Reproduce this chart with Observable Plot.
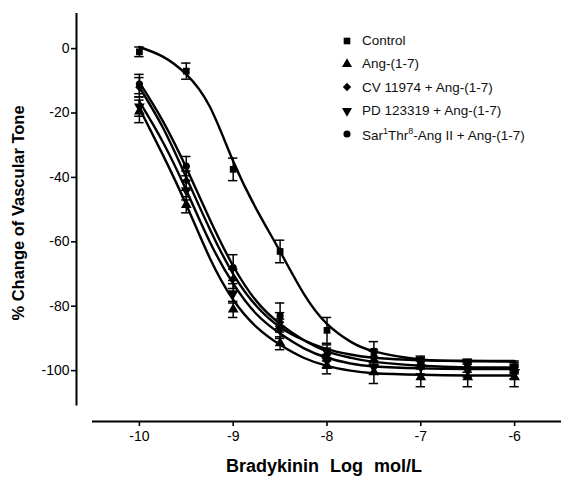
<!DOCTYPE html>
<html>
<head>
<meta charset="utf-8">
<script src="https://cdn.jsdelivr.net/npm/d3@7"></script>
<script src="https://cdn.jsdelivr.net/npm/@observablehq/plot@0.6"></script>
<style>
  html, body { margin: 0; padding: 0; background: #fff; }
  #wrap { position: relative; width: 561px; height: 478px; font-family: "Liberation Sans", Arial, Helvetica, sans-serif; }
  #legend { position: absolute; left: 340px; top: 29px; font-size: 13.5px; color: #111; }
  #legend .row { display: flex; align-items: center; height: 23.3px; }
  #legend svg { width: 14px; height: 14px; margin-right: 8px; }
</style>
</head>
<body>
<div id="wrap"></div>
<script>
// ---- data ----
const seriesNames = ["Control", "Ang-(1-7)", "CV 11974 + Ang-(1-7)", "PD 123319 + Ang-(1-7)", "Sar1Thr8-Ang II + Ang-(1-7)"];
const doses = [-10, -9.5, -9, -8.5, -8, -7.5, -7, -6.5, -6];
const controlMean = [-1, -7, -37.5, -63, -87.5, -94, -97, -98, -99];
const controlSem  = [1.5, 2.5, 3.5, 3.5, 4, 3, 1.5, 1.5, 1.5];
const angMean = [-19.5, -48.5, -81, -91.5, -98.5, -100.5, -102, -102, -102];
const angSem  = [3.5, 2.5, 2.5, 2, 2.5, 3.5, 3, 3, 3];
const cvMean = [-12, -41, -71.5, -85, -94, -95.5, -97.5, -98, -98.5];
const cvSem  = [3, 3, 3, 3, 2, 2, 1.5, 1.5, 1.5];
const pdMean = [-18, -44, -76, -87, -97, -99, -99, -100, -100.5];
const pdSem  = [3, 3, 3, 3, 2, 2, 2, 2, 2];
const sarMean = [-11, -36.5, -68, -83, -95, -96, -98, -99, -99.5];
const sarSem  = [3, 3, 4, 4, 2, 2, 1.5, 1.5, 1.5];

// fitted curves
const curveX = [-10, -9.75, -9.5, -9.25, -9, -8.75, -8.5, -8.25, -8, -7.75, -7.5, -7, -6.5, -6];
const controlCurve = [0.5, -2.5, -8, -18, -35, -50, -63, -76, -85.5, -91, -94, -96.5, -97, -97.2];
const angCurve = [-18.5, -33, -48.5, -65, -78, -86.5, -92, -96, -98.5, -100, -100.8, -101.3, -101.5, -101.5];
const pdCurve = [-16.5, -29, -44, -60, -73, -82.5, -88.5, -93, -96, -97.8, -98.7, -99.3, -99.5, -99.5];
const cvCurve = [-12, -24.5, -40, -56, -70, -80, -86.5, -90.5, -93.3, -95, -96, -96.8, -97, -97];
const sarCurve = [-10.5, -22.5, -37, -53, -67.5, -78.5, -85.5, -90.5, -94, -96, -97.3, -98.5, -99, -99];

const xTicks = [-10, -9, -8, -7, -6];
const yTicks = [0, -20, -40, -60, -80, -100];

// ---- build tables ----
const means = [controlMean, angMean, cvMean, pdMean, sarMean];
const sems = [controlSem, angSem, cvSem, pdSem, sarSem];
const curves = [controlCurve, angCurve, cvCurve, pdCurve, sarCurve];
const symbols = ["square", "triangle", "diamond2", "triangle", "circle"];
const rotations = [0, 0, 0, 180, 0];
const sizes = [3.8, 4, 3.8, 4, 3.6];

const points = [];
means.forEach((m, s) => m.forEach((v, i) => points.push({s, x: doses[i], y: v, sem: sems[s][i]})));
const lines = [];
curves.forEach((c, s) => c.forEach((v, i) => lines.push({s, x: curveX[i], y: v})));

const xDom = [-10.5, -5.5];
const yDom = [-115.8, 10.9];
const capHalf = 0.05;

const marks = [
  // axis lines
  Plot.ruleY([yDom[0]], {x1: xDom[0], x2: xDom[1], stroke: "#000", strokeWidth: 2}),
  Plot.ruleX([xDom[0]], {y1: 10.9, y2: -111, dx: -16, stroke: "#000", strokeWidth: 2}),
  Plot.axisX({ticks: xTicks, tickSize: 5, tickFormat: d => String(d), fontSize: 14, tickPadding: 5, strokeWidth: 1.6, label: null}),
  Plot.axisY({ticks: yTicks, tickSize: 5, tickFormat: d => String(d), fontSize: 14, tickPadding: 2, dx: -16, strokeWidth: 1.6, label: null}),
  // fitted curves
  Plot.line(lines, {x: "x", y: "y", z: "s", curve: "natural", stroke: "#000", strokeWidth: 2.4}),
  // error bars
  Plot.ruleX(points, {x: "x", y1: d => d.y - d.sem, y2: d => d.y + d.sem, stroke: "#000", strokeWidth: 1.5}),
  Plot.ruleY(points, {y: d => d.y - d.sem, x1: d => d.x - capHalf, x2: d => d.x + capHalf, stroke: "#000", strokeWidth: 1.5}),
  Plot.ruleY(points, {y: d => d.y + d.sem, x1: d => d.x - capHalf, x2: d => d.x + capHalf, stroke: "#000", strokeWidth: 1.5}),
];
symbols.forEach((sym, s) => {
  marks.push(Plot.dot(points.filter(d => d.s === s), {x: "x", y: "y", symbol: sym, r: sizes[s], rotate: rotations[s], fill: "#000", stroke: "none"}));
});

const chart = Plot.plot({
  width: 561,
  height: 478,
  marginLeft: 92,
  marginRight: 0,
  marginTop: 13,
  marginBottom: 57,
  style: {fontFamily: '"Liberation Sans", Arial, Helvetica, sans-serif', color: "#000", background: "#fff"},
  x: {domain: xDom},
  y: {domain: yDom},
  marks
});

// axis titles as text inside the SVG
const svg = d3.select(chart);
svg.append("text")
  .attr("x", 324).attr("y", 472)
  .attr("text-anchor", "middle")
  .attr("font-size", 18).attr("font-weight", "bold")
  .attr("word-spacing", "6px")
  .attr("fill", "#000")
  .text("Bradykinin Log mol/L");
svg.append("text")
  .attr("transform", "translate(24,213) rotate(-90)")
  .attr("text-anchor", "middle")
  .attr("font-size", 16.5).attr("font-weight", "bold")
  .attr("fill", "#000")
  .text("% Change of Vascular Tone");

const wrap = document.getElementById("wrap");
wrap.appendChild(chart);

// legend
const legend = document.createElement("div");
legend.id = "legend";
const symbolPaths = {
  square: d3.symbol(d3.symbolSquare, 44)(),
  triangle: d3.symbol(d3.symbolTriangle, 44)(),
  diamond2: d3.symbol(d3.symbolDiamond2, 44)(),
  circle: d3.symbol(d3.symbolCircle, 40)()
};
seriesNames.forEach((name, s) => {
  const row = document.createElement("div");
  row.className = "row";
  const label = s === 4 ? 'Sar<sup style="font-size:9px">1</sup>Thr<sup style="font-size:9px">8</sup>-Ang II + Ang-(1-7)' : name;
  row.innerHTML = `<svg viewBox="-7 -7 14 14"><path d="${symbolPaths[symbols[s]]}" transform="rotate(${rotations[s]})" fill="#000"/></svg><span>${label}</span>`;
  legend.appendChild(row);
});
wrap.appendChild(legend);
</script>
</body>
</html>
